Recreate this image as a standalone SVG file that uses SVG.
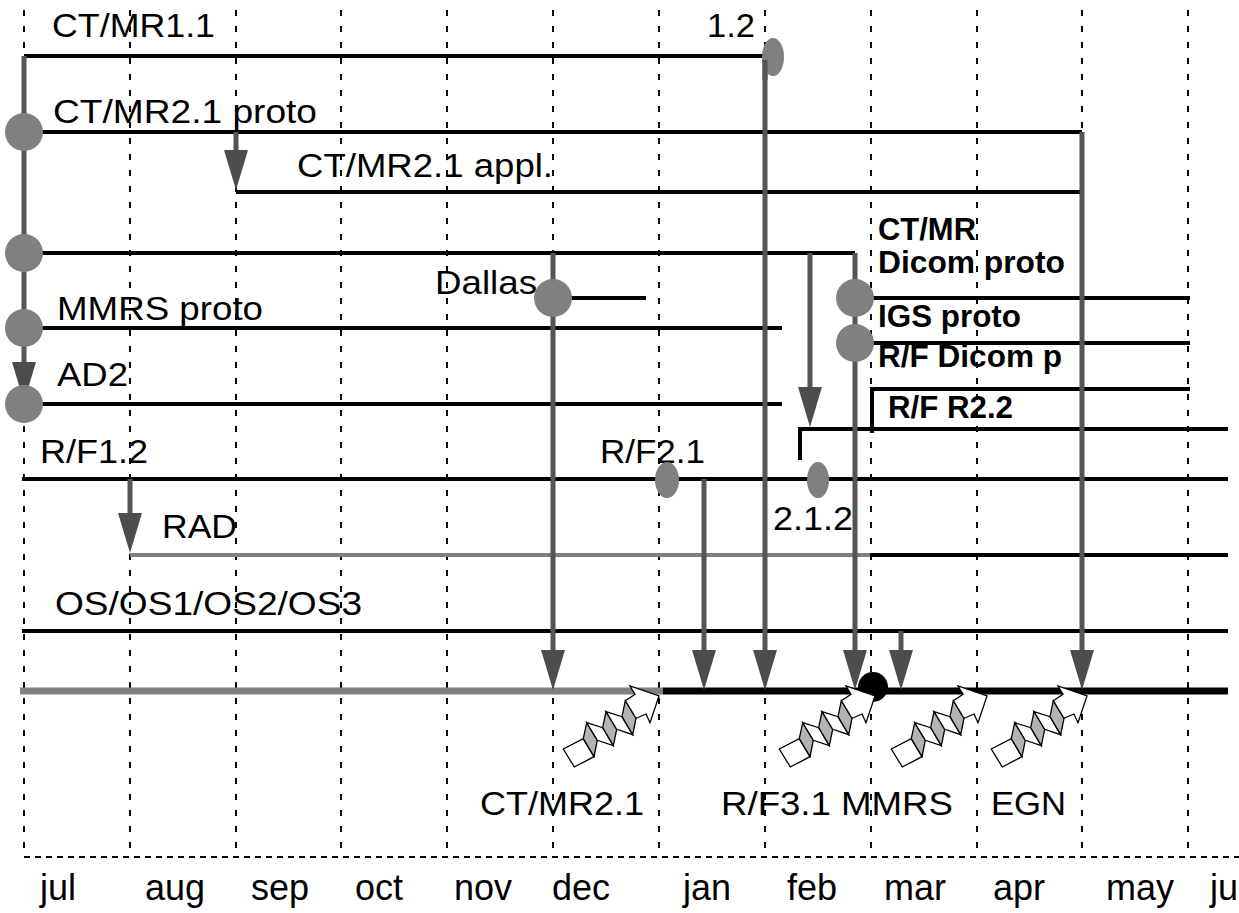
<svg xmlns="http://www.w3.org/2000/svg" width="1239" height="913" viewBox="0 0 1239 913">
<style>
.grid{stroke:#000;stroke-width:2;stroke-dasharray:6 10;fill:none}
.hgrid{stroke:#000;stroke-width:2;stroke-dasharray:6 5;fill:none}
.bar{stroke:#000;stroke-width:4;fill:none}
.gbar{stroke:#808080;stroke-width:4;fill:none}
.conn{stroke:#555;stroke-width:5;fill:none;marker-end:url(#ah)}
.dot{fill:#808080}
.t{font-family:"Liberation Sans",Arial,sans-serif;font-size:33px;fill:#000}
.b{font-family:"Liberation Sans",Arial,sans-serif;font-size:31px;font-weight:bold;fill:#000}
.m{font-family:"Liberation Sans",Arial,sans-serif;font-size:36px;fill:#000}
.ic{stroke:#000;stroke-width:1.3;stroke-linejoin:miter}
.w{fill:#fff}
.g{fill:#b3b3b3}
</style>
<defs>
<marker id="ah" markerUnits="userSpaceOnUse" viewBox="0 -12 40 24" refX="30" refY="0" markerWidth="40" markerHeight="24" orient="auto">
<path d="M0,-12L40,0L0,12z" fill="#4d4d4d"/>
</marker>
<g id="icon">
<polygon class="ic w" points="563.3,749 583.3,738.7 594,756.7 574.3,767"/>
<polygon class="ic g" points="583.3,738.7 586.7,722.7 597.3,740.3 594,756.7"/>
<polygon class="ic w" points="586.7,722.7 602.7,727.7 613.3,745.7 597.3,740.3"/>
<polygon class="ic g" points="602.7,727.7 606,711.7 616.7,729.3 613.3,745.7"/>
<polygon class="ic w" points="606,711.7 622,716.7 632.7,734.7 616.7,729.3"/>
<polygon class="ic g" points="622,716.7 625.3,700.7 636,718.3 632.7,734.7"/>
<polygon class="ic w" points="625.3,700.7 635,694.3 630,686 659,696 650,722.7 646,714 636,718.3"/>
</g>
</defs>
<rect width="1239" height="913" fill="#fff"/>
<g id="grid">
<path class="grid" d="M24,10V857M130,10V857M236,10V857M341,10V857M447,10V857M553,10V857M659,10V857M765,10V857M871,10V857M977,10V857M1082,10V857M1188,10V857"/>
<path class="hgrid" d="M24,857H1239"/>
</g>
<g id="timeline">
<line x1="20" y1="691" x2="663" y2="691" stroke="#808080" stroke-width="7"/>
<line x1="663" y1="691" x2="1228" y2="691" stroke="#000" stroke-width="7"/>
</g>
<g id="ctmr11">
<line class="bar" x1="24" y1="56" x2="765" y2="56"/>
<text class="t" x="52" y="37" textLength="163" lengthAdjust="spacingAndGlyphs">CT/MR1.1</text>
</g>
<g id="ctmr12">
<text class="t" x="707" y="37" textLength="48" lengthAdjust="spacingAndGlyphs">1.2</text>
</g>
<g id="ctmr21proto">
<line class="bar" x1="24" y1="132" x2="1082" y2="132"/>
<text class="t" x="53" y="123" textLength="264" lengthAdjust="spacingAndGlyphs">CT/MR2.1 proto</text>
</g>
<g id="ctmr21appl">
<line class="bar" x1="236" y1="192" x2="1082" y2="192"/>
<text class="t" x="297" y="177" textLength="256" lengthAdjust="spacingAndGlyphs">CT/MR2.1 appl.</text>
</g>
<g id="unnamed">
<line class="bar" x1="24" y1="253" x2="855" y2="253"/>
</g>
<g id="dallas">
<line class="bar" x1="553" y1="298" x2="646" y2="298"/>
<text class="t" x="435" y="294" textLength="102" lengthAdjust="spacingAndGlyphs">Dallas</text>
</g>
<g id="mmrs">
<line class="bar" x1="24" y1="328" x2="782" y2="328"/>
<text class="t" x="57" y="320" textLength="206" lengthAdjust="spacingAndGlyphs">MMRS proto</text>
</g>
<g id="ad2">
<line class="bar" x1="24" y1="404" x2="782" y2="404"/>
<text class="t" x="57" y="386" textLength="71" lengthAdjust="spacingAndGlyphs">AD2</text>
</g>
<g id="dicom">
<line class="bar" x1="855" y1="298" x2="1190" y2="298"/>
<text class="b" x="878" y="240" textLength="98" lengthAdjust="spacingAndGlyphs">CT/MR</text>
<text class="b" x="878" y="273" textLength="187" lengthAdjust="spacingAndGlyphs">Dicom proto</text>
</g>
<g id="igs">
<line class="bar" x1="855" y1="343" x2="1190" y2="343"/>
<text class="b" x="878" y="327" textLength="143" lengthAdjust="spacingAndGlyphs">IGS proto</text>
</g>
<g id="rfdicom">
<text class="b" x="878" y="367" textLength="184" lengthAdjust="spacingAndGlyphs">R/F Dicom p</text>
<path class="bar" d="M872,433V389H1190"/>
</g>
<g id="rfr22">
<text class="b" x="888" y="418" textLength="125" lengthAdjust="spacingAndGlyphs">R/F R2.2</text>
<path class="bar" d="M800,460V429H1228"/>
</g>
<g id="rf12">
<line class="bar" x1="22" y1="479" x2="1228" y2="479"/>
<text class="t" x="40" y="463" textLength="108" lengthAdjust="spacingAndGlyphs">R/F1.2</text>
</g>
<g id="rf21">
<text class="t" x="600" y="463" textLength="105" lengthAdjust="spacingAndGlyphs">R/F2.1</text>
</g>
<g id="rf212">
<text class="t" x="773" y="530" textLength="80" lengthAdjust="spacingAndGlyphs">2.1.2</text>
</g>
<g id="rad">
<line class="gbar" x1="130" y1="555" x2="870" y2="555"/>
<line class="bar" x1="870" y1="555" x2="1228" y2="555"/>
<text class="t" x="162" y="538" textLength="75" lengthAdjust="spacingAndGlyphs">RAD</text>
</g>
<g id="os">
<line class="bar" x1="22" y1="631" x2="1228" y2="631"/>
<text class="t" x="55" y="615" textLength="307" lengthAdjust="spacingAndGlyphs">OS/OS1/OS2/OS3</text>
</g>
<g id="connectors">
<path class="conn" d="M24,56V392"/>
<path class="conn" d="M236,132V180"/>
<path class="conn" d="M765,56V680"/>
<path class="conn" d="M1082,132V680"/>
<path class="conn" d="M553,253V680"/>
<path class="conn" d="M810,253V417"/>
<path class="conn" d="M855,253V680"/>
<path class="conn" d="M704,479V680"/>
<path class="conn" d="M901,631V680"/>
<path class="conn" d="M130,479V543"/>
</g>
<g id="milestones">
<circle class="dot" cx="24" cy="132" r="19"/>
<circle class="dot" cx="24" cy="253" r="19"/>
<circle class="dot" cx="24" cy="328" r="19"/>
<circle class="dot" cx="24" cy="404" r="19"/>
<ellipse class="dot" cx="773" cy="57" rx="11" ry="19"/>
<circle class="dot" cx="553" cy="298" r="19"/>
<circle class="dot" cx="855" cy="298" r="19"/>
<circle class="dot" cx="855" cy="343" r="19"/>
<ellipse class="dot" cx="667" cy="480" rx="12" ry="18"/>
<ellipse class="dot" cx="818" cy="480" rx="11" ry="18"/>
<line x1="765" y1="60" x2="765" y2="80" stroke="#555" stroke-width="5"/>
<circle cx="873" cy="687" r="15" fill="#000"/>
</g>
<g id="releases">
<use href="#icon"/>
<use href="#icon" transform="translate(216,0)"/>
<use href="#icon" transform="translate(328,0)"/>
<use href="#icon" transform="translate(428,0)"/>
<text class="t" x="480" y="815" textLength="164" lengthAdjust="spacingAndGlyphs">CT/MR2.1</text>
<text class="t" x="721" y="815" textLength="232" lengthAdjust="spacingAndGlyphs">R/F3.1 MMRS</text>
<text class="t" x="991" y="815" textLength="75" lengthAdjust="spacingAndGlyphs">EGN</text>
</g>
<g id="months">
<text class="m" x="40" y="900">jul</text>
<text class="m" x="145" y="900">aug</text>
<text class="m" x="251" y="900">sep</text>
<text class="m" x="355" y="900">oct</text>
<text class="m" x="454" y="900">nov</text>
<text class="m" x="552" y="900">dec</text>
<text class="m" x="683" y="900">jan</text>
<text class="m" x="787" y="900">feb</text>
<text class="m" x="884" y="900">mar</text>
<text class="m" x="993" y="900">apr</text>
<text class="m" x="1106" y="900">may</text>
<text class="m" x="1210" y="900">ju</text>
</g>
</svg>
